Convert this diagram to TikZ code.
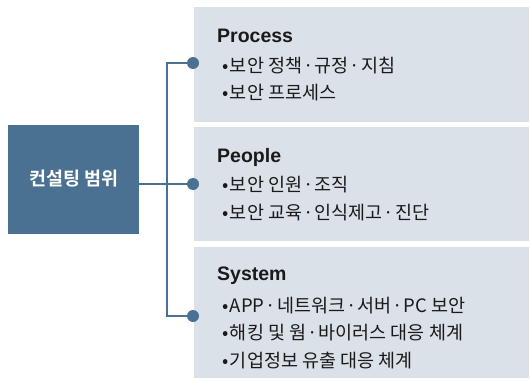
\documentclass[tikz,border=0pt]{standalone}
\usepackage{fontspec}
\setmainfont{Noto Sans CJK KR}[BoldFont={Noto Sans CJK KR Bold}]
\newfontfamily\titlefont{Liberation Sans}
\definecolor{darkblue}{HTML}{4A7191}
\definecolor{panelbg}{HTML}{DBE1E9}
\definecolor{txt}{HTML}{1A1A1A}
\newcommand{\md}{\kern1pt·\kern1pt}
\newcommand{\bul}{•\kern1.5pt}
\begin{document}
\begin{tikzpicture}[x=1pt,y=-1pt,
  panel/.style={fill=panelbg, draw=none, inner sep=0pt, minimum width=335pt, anchor=north west},
  rootbox/.style={fill=darkblue, draw=none, inner sep=0pt, minimum width=131pt, minimum height=109pt, anchor=north west},
  dotnode/.style={circle, fill=darkblue, draw=none, inner sep=0pt, minimum size=12pt},
  conn/.style={draw=darkblue, line width=1.5pt},
  title/.style={anchor=base west, inner sep=0pt, text=txt, font=\titlefont\bfseries\fontsize{19.5}{22}\selectfont},
  item/.style={anchor=base west, inner sep=0pt, text=txt, font=\fontsize{18.5}{22}\selectfont},
  roottext/.style={text=white, font=\bfseries\fontsize{18.5}{22}\selectfont}
]
\useasboundingbox (0,0) rectangle (530,380);
% panels
\node[panel, minimum height=115pt] (p1) at (194,7) {};
\node[panel, minimum height=114pt] (p2) at (194,127) {};
\node[panel, minimum height=131pt] (p3) at (194,247) {};
% root
\node[rootbox] (root) at (8,125) {};
\node[roottext] (rootlabel) at ([yshift=1pt]root.center) {컨설팅 범위};
% dots
\node[dotnode] (d1) at (193,63) {};
\node[dotnode] (d2) at (193,184) {};
\node[dotnode] (d3) at (193,316) {};
\coordinate (jt) at (167,63);
\coordinate (jb) at (167,316);
\coordinate (rs) at (139,184);
% connectors
\draw[conn] (d1) -- (jt) -- (jb) -- (d3);
\draw[conn] (rs) -- (d2);
% texts
\node[title] (t1) at (217,42) {Process};
\node[item] (i11) at (222,72) {\bul 보안 정책\md 규정\md 지침};
\node[item] (i12) at (222,99) {\bul 보안 프로세스};
\node[title] (t2) at (217,162) {People};
\node[item] (i21) at (222,191) {\bul 보안 인원\md 조직};
\node[item] (i22) at (222,219) {\bul 보안 교육\md 인식제고\md 진단};
\node[title] (t3) at (217,280) {System};
\node[item] (i31) at (222,312) {\bul APP\md 네트워크\md 서버\md PC 보안};
\node[item] (i32) at (222,339) {\bul 해킹 및 웜\md 바이러스 대응 체계};
\node[item] (i33) at (222,367) {\bul 기업정보 유출 대응 체계};
\end{tikzpicture}
\end{document}
